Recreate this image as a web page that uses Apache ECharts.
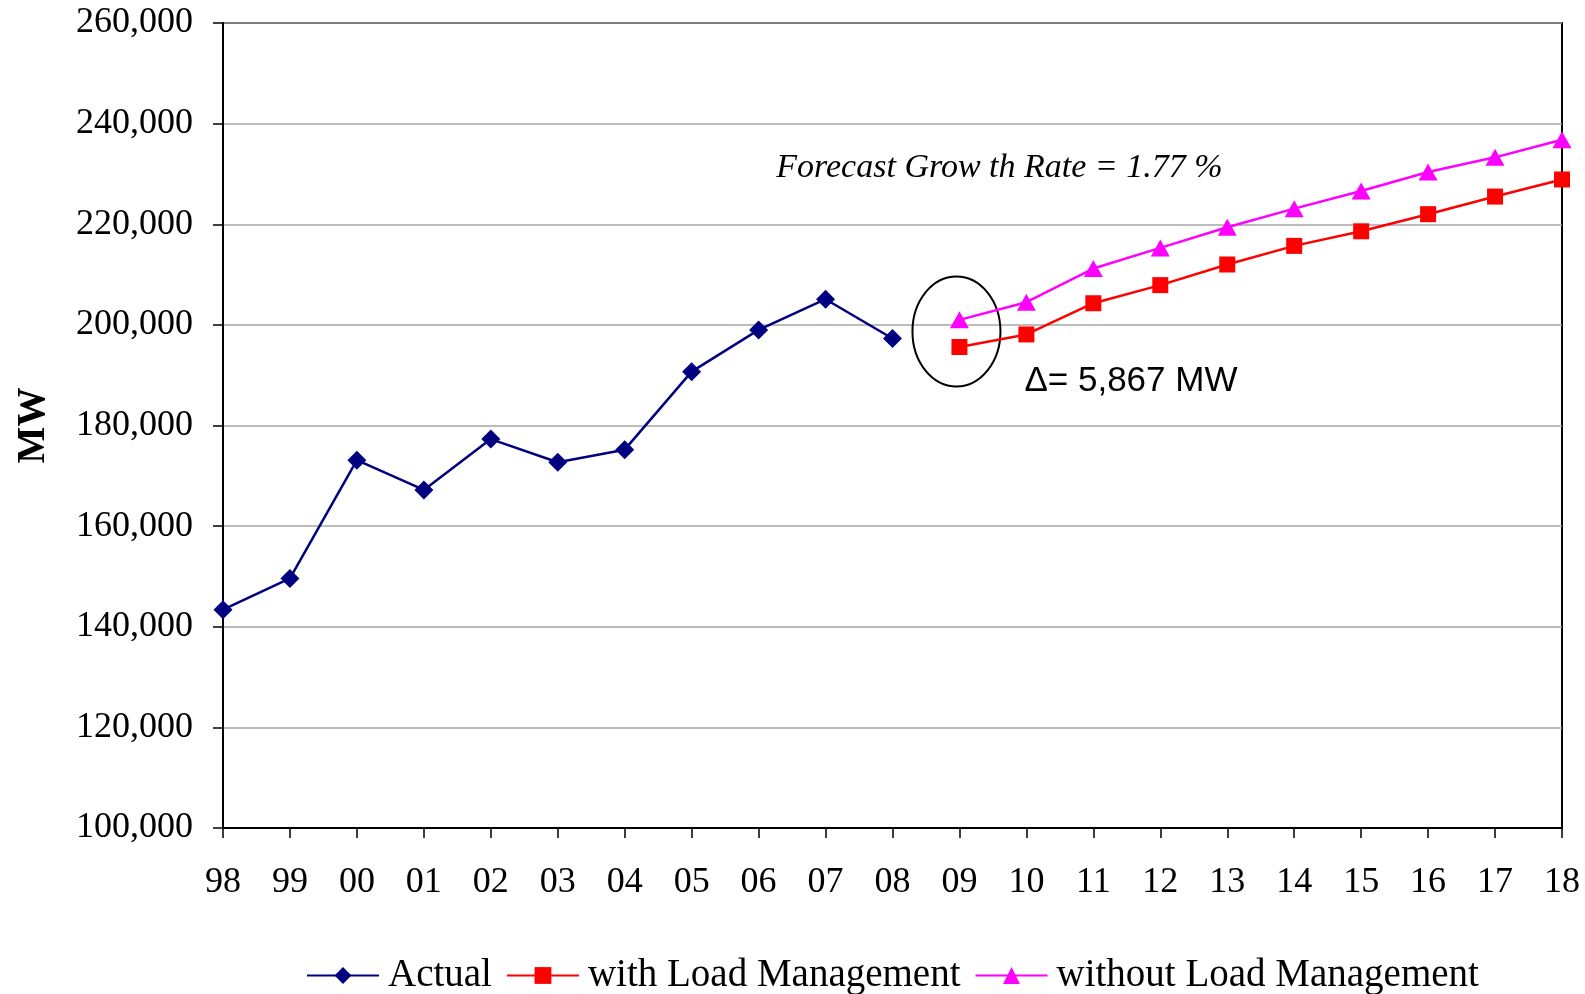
<!DOCTYPE html>
<html>
<head>
<meta charset="utf-8">
<script src="https://cdn.jsdelivr.net/npm/echarts@6/dist/echarts.min.js"></script>
<style>
  html, body { margin: 0; padding: 0; background: #fff; }
  #chart { width: 1585px; height: 994px; }
</style>
</head>
<body>
<div id="chart"></div>
<script>
// years (x axis)
const years = ['98', '99', '00', '01', '02', '03', '04', '05', '06', '07', '08',
  '09', '10', '11', '12', '13', '14', '15', '16', '17', '18']

// peak demand, MW
const actual = [143400, 149600, 173100, 167200, 177300, 172700, 175200, 190700, 199000, 205100, 197300,
  null, null, null, null, null, null, null, null, null, null]
const withLM = [null, null, null, null, null, null, null, null, null, null, null,
  195600, 198100, 204300, 207900, 212000, 215700, 218600, 222000, 225500, 228900]
const withoutLM = [null, null, null, null, null, null, null, null, null, null, null,
  201000, 204500, 211200, 215300, 219400, 223100, 226600, 230400, 233300, 236800]

const serif = '"Liberation Serif", "Times New Roman", serif'

const chart = echarts.init(document.getElementById('chart'))

const option = {
  animation: false,
  backgroundColor: '#fff',
  grid: {
    left: 223, right: 23, top: 23, bottom: 166,
    outerBoundsMode: 'none',
    show: true,
    borderColor: '#000',
    borderWidth: 2
  },
  legend: {
    top: 951,
    left: 301,
    itemWidth: 72,
    itemHeight: 21,
    itemGap: 14,
    textStyle: { fontFamily: serif, fontSize: 39, color: '#000', padding: [0, 0, 0, 4] },
    data: ['Actual', 'with Load Management', 'without Load Management']
  },
  xAxis: {
    type: 'category',
    data: years,
    boundaryGap: false,
    axisLine: { show: true, lineStyle: { color: '#000', width: 2 } },
    axisTick: { show: true, length: 10, lineStyle: { color: '#000', width: 1.5 } },
    axisLabel: { fontFamily: serif, fontSize: 36, color: '#000', margin: 37 },
    splitLine: { show: false }
  },
  yAxis: {
    type: 'value',
    min: 100000,
    max: 260000,
    interval: 20000,
    name: 'MW',
    nameLocation: 'middle',
    nameRotate: 90,
    nameGap: 170,
    nameTextStyle: { fontFamily: serif, fontSize: 39, fontWeight: 'bold', color: '#000' },
    axisLine: { show: true, lineStyle: { color: '#000', width: 2 } },
    axisTick: { show: true, length: 10, lineStyle: { color: '#000', width: 1.5 } },
    axisLabel: {
      fontFamily: serif, fontSize: 36, color: '#000', margin: 30,
      formatter: v => v.toLocaleString('en-US')
    },
    splitLine: { show: true, lineStyle: { color: '#a6a6a6', width: 1.5 } }
  },
  series: [
    {
      name: 'Actual',
      type: 'line',
      data: actual,
      symbol: 'diamond',
      symbolSize: 19,
      showAllSymbol: true,
      lineStyle: { color: '#000080', width: 2.5 },
      itemStyle: { color: '#000080' }
    },
    {
      name: 'with Load Management',
      type: 'line',
      data: withLM,
      symbol: 'rect',
      symbolSize: 16,
      showAllSymbol: true,
      lineStyle: { color: '#ff0000', width: 2.5 },
      itemStyle: { color: '#ff0000' }
    },
    {
      name: 'without Load Management',
      type: 'line',
      data: withoutLM,
      symbol: 'triangle',
      symbolSize: [19, 17],
      showAllSymbol: true,
      lineStyle: { color: '#ff00ff', width: 2.5 },
      itemStyle: { color: '#ff00ff' }
    }
  ]
}

chart.setOption(option)

// annotations placed from data coordinates
const circ = chart.convertToPixel({ gridIndex: 0 }, ['09', 198700])
const rate = chart.convertToPixel({ gridIndex: 0 }, ['09', 231300])
const delta = chart.convertToPixel({ gridIndex: 0 }, ['10', 188400])

chart.setOption({
  graphic: [
    {
      type: 'ellipse',
      shape: { cx: circ[0] - 3, cy: circ[1], rx: 44, ry: 55 },
      style: { fill: 'none', stroke: '#000', lineWidth: 2 }
    },
    {
      type: 'text',
      x: rate[0] + 40,
      y: rate[1] + 1,
      style: {
        text: 'Forecast Grow th Rate = 1.77 %',
        font: 'italic 34px ' + serif,
        fill: '#000',
        align: 'center',
        verticalAlign: 'middle'
      }
    },
    {
      type: 'text',
      x: delta[0] - 2,
      y: delta[1] - 2,
      style: {
        text: 'Δ= 5,867 MW',
        font: '35px "Liberation Sans", Arial, sans-serif',
        fill: '#000',
        align: 'left',
        verticalAlign: 'middle'
      }
    }
  ]
})
</script>
</body>
</html>
